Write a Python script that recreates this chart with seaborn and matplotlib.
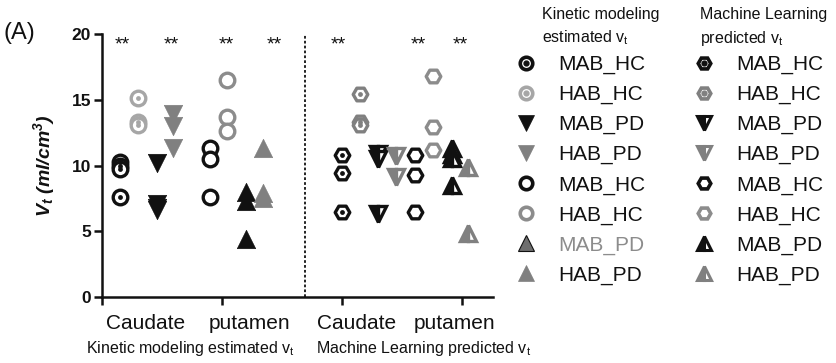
import numpy as np
import pandas as pd
import matplotlib
matplotlib.use("Agg")
import matplotlib.pyplot as plt
import seaborn as sns
from matplotlib.lines import Line2D

sns.set_theme(style="ticks")
plt.rcParams['font.family'] = ['Liberation Sans', 'DejaVu Sans']
plt.rcParams['mathtext.default'] = 'regular'

# ---- data ----
groups = ["MAB_HC", "HAB_HC", "MAB_PD", "HAB_PD", "MAB_HC", "HAB_HC", "MAB_PD", "HAB_PD"]
regions = ["Caudate", "putamen", "Caudate", "putamen"]
methods = ["Kinetic modeling estimated v$_t$", "Machine Learning predicted v$_t$"]

# kinetic modeling estimated Vt (caudate: first 4 groups, putamen: last 4)
km_values = [
    [10.3, 10.0, 9.7, 7.6],
    [15.1, 13.3, 13.1],
    [10.2, 7.1, 6.8, 6.6],
    [13.9, 13.0, 11.3],
    [11.3, 10.5, 7.6],
    [16.5, 13.7, 12.6],
    [8.0, 7.3, 4.4],
    [11.3, 7.9, 7.5],
]
# machine learning predicted Vt
ml_values = [
    [10.8, 9.4, 6.5],
    [15.4, 13.3, 13.1],
    [10.9, 10.5, 6.3],
    [10.7, 9.1],
    [10.8, 9.3, 6.5],
    [16.8, 12.9, 11.2],
    [11.3, 10.9, 10.6, 8.5],
    [9.9, 4.9],
]
stars = ["**", "**", "**", "**", "**", "**", "**"]

# ---- layout ----
km_x = [0.15, 0.30, 0.46, 0.59, 0.90, 1.04, 1.20, 1.34]
ml_x = [2.00, 2.15, 2.30, 2.45, 2.61, 2.76, 2.92, 3.05]
star_x = [0.17, 0.575, 1.04, 1.44, 1.97, 2.64, 2.99]
region_x = [0.36, 1.23, 2.125, 2.94]

BK = "#111111"
G1 = "#a6a6a6"
G2 = "#808080"
G3 = "#8c8c8c"

# marker, edge, face, fillstyle, center dot
km_style = [
    ("o", BK, "white", "full", True),
    ("o", G1, "white", "full", True),
    ("v", BK, BK, "full", False),
    ("v", G2, G2, "full", False),
    ("o", BK, "white", "full", False),
    ("o", G3, "white", "full", False),
    ("^", BK, BK, "full", False),
    ("^", G2, G2, "full", False),
]
ml_style = [
    ("H", BK, "white", "full", True),
    ("H", G2, "white", "full", True),
    ("v", BK, BK, "left", False),
    ("v", G2, G2, "left", False),
    ("H", BK, "white", "full", False),
    ("H", G3, "white", "full", False),
    ("^", BK, BK, "left", False),
    ("^", G2, G2, "left", False),
]

rows = []
for m, vals, xs in [(0, km_values, km_x), (1, ml_values, ml_x)]:
    for i, v in enumerate(vals):
        for y in v:
            rows.append({"method": m, "col": i, "x": xs[i], "vt": y})
df = pd.DataFrame(rows)

fig = plt.figure(figsize=(8.37, 3.63), dpi=100)
ax = fig.add_axes([102 / 837, 1 - 297 / 363, (493 - 102) / 837, (297 - 34) / 363])

MS = 11
for (m, i), d in df.groupby(["method", "col"]):
    mk, ec, fc, fs, dot = (km_style if m == 0 else ml_style)[i]
    lw = 2.4
    if fs == "left":
        ax.plot(d["x"], d["vt"], ls="none", marker=mk, ms=MS, mec=ec, mfc=fc,
                fillstyle="left", mfcalt="white", mew=lw, zorder=3)
    elif mk in ("v", "^"):
        sns.scatterplot(x=d["x"], y=d["vt"], marker=mk, s=(MS * 1.2) ** 2,
                        color=fc, edgecolor=ec, linewidth=0.5, ax=ax, zorder=3)
    else:
        sns.scatterplot(x=d["x"], y=d["vt"], marker=mk, s=(MS - 0.5) ** 2,
                        facecolor=fc, edgecolor=ec, linewidth=lw, ax=ax, zorder=3)
    if dot:
        sns.scatterplot(x=d["x"], y=d["vt"], marker="o", s=12, color=ec,
                        linewidth=0, ax=ax, zorder=4)

# divider between the two methods
ax.axvline(1.69, color=BK, ls=(0, (1.5, 1.2)), lw=1.3)

for sx, st in zip(star_x, stars):
    ax.text(sx, 19.8, st, ha="center", va="top", fontsize=14, color=BK)

ax.set_xlim(0, 3.26)
ax.set_ylim(0, 20)
ax.set_yticks([0, 5, 10, 15, 20])
ax.set_xticks(region_x)
ax.set_xticklabels(regions, fontsize=15)
ax.set_xticks([0, 1, 2, 3], minor=True)
ax.tick_params(axis="x", which="major", length=0, pad=12, colors=BK)
ax.tick_params(axis="x", which="minor", length=6, width=1.8, color=BK)
ax.tick_params(axis="y", length=6, width=1.8, color=BK, pad=2)
for lab in ax.get_yticklabels():
    lab.set_fontweight("bold")
    lab.set_fontsize(12.5)
    lab.set_color(BK)
sns.despine(ax=ax)
for sp in ["left", "bottom"]:
    ax.spines[sp].set_linewidth(1.8)
    ax.spines[sp].set_color(BK)
ax.set_xlabel("")
ax.set_ylabel("V$_t$ (ml/cm$^3$)", fontsize=14, fontweight="bold", fontstyle="italic",
              color=BK, labelpad=10)

fig.text(190 / 837, 1 - 348 / 363, methods[0], ha="center", va="center", fontsize=11.5, color=BK)
fig.text(424 / 837, 1 - 348 / 363, methods[1], ha="center", va="center", fontsize=11.5, color=BK)
fig.text(4 / 837, 1 - 33 / 363, "(A)", ha="left", va="center", fontsize=17, color=BK)

# legends
def handle(style, small=10):
    mk, ec, fc, fs, dot = style
    if fs == "left":
        h = Line2D([], [], ls="none", marker=mk, ms=small, mec=ec, mfc=fc,
                   fillstyle="left", mfcalt="white", mew=2.2)
    elif mk in ("v", "^"):
        h = Line2D([], [], ls="none", marker=mk, ms=small + 1, mec=ec, mfc=fc, mew=0.5)
    else:
        h = Line2D([], [], ls="none", marker=mk, ms=small - 1, mec=ec, mfc=fc, mew=2.6)
    if dot:
        return (h, Line2D([], [], ls="none", marker="o", ms=3.5, mec=ec, mfc=ec))
    return h

km_handles = [handle(s) for s in km_style]
km_handles[6] = Line2D([], [], ls="none", marker="^", ms=11, mec=BK, mfc="#6e6e6e", mew=0.8)
ml_handles = [handle(s) for s in ml_style]

leg_kw = dict(loc="upper left", frameon=False, fontsize=15, handlelength=1.0,
              handletextpad=1.05, labelspacing=0.52, borderpad=0, borderaxespad=0)
leg1 = fig.legend(km_handles, groups, bbox_to_anchor=(516 / 837, 1 - 55 / 363), **leg_kw)
leg1.get_texts()[6].set_color(G3)
leg2 = fig.legend(ml_handles, groups, bbox_to_anchor=(694 / 837, 1 - 55 / 363), **leg_kw)
for leg in (leg1, leg2):
    for t in leg.get_texts():
        if t.get_color() != G3:
            t.set_color(BK)

fig.text(542 / 837, 1 - 15 / 363, "Kinetic modeling", fontsize=11.5, va="center", color=BK)
fig.text(542 / 837, 1 - 38 / 363, "estimated v$_t$", fontsize=11.5, va="center", color=BK)
fig.text(700 / 837, 1 - 15 / 363, "Machine Learning", fontsize=11.5, va="center", color=BK)
fig.text(700 / 837, 1 - 38 / 363, "predicted v$_t$", fontsize=11.5, va="center", color=BK)

fig.savefig("out.png", dpi=100)
